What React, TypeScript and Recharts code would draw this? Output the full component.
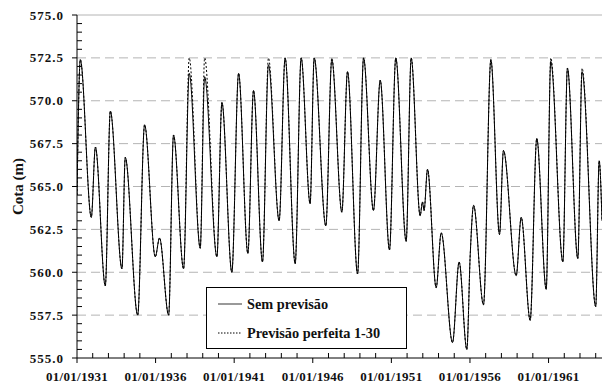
import React from 'react';
import { LineChart, Line, XAxis, YAxis, ReferenceLine, Legend } from 'recharts';

// turning points (year as decimal)
const years = [
  1931.0, 1931.21, 1931.91, 1932.17, 1932.8, 1933.12, 1933.86, 1934.07, 1934.86, 1935.3,
  1935.98, 1936.25, 1936.83, 1937.14, 1937.78, 1938.14, 1938.84, 1939.12, 1939.9, 1940.22,
  1940.85, 1941.28, 1941.87, 1942.23, 1942.8, 1943.18, 1943.86, 1944.24, 1944.88, 1945.26,
  1945.83, 1946.09, 1946.83, 1947.21, 1947.85, 1948.21, 1948.85, 1949.23, 1949.86, 1950.29,
  1950.88, 1951.28, 1951.94, 1952.26, 1952.83, 1952.98, 1953.08, 1953.3, 1953.85, 1954.17,
  1954.89, 1955.31, 1955.8, 1956.02, 1956.23, 1956.86, 1957.33, 1957.88, 1958.13, 1958.94,
  1959.26, 1959.83, 1960.25, 1960.85, 1961.14, 1961.91, 1962.2, 1962.86, 1963.13, 1964.0,
  1964.22, 1964.4,
];

const semPrevisao = [
  564.5, 572.4, 563.2, 567.3, 559.2, 569.4, 560.2, 566.7, 557.5, 568.6,
  560.9, 562.0, 557.5, 568.0, 560.2, 571.6, 561.4, 571.4, 560.9, 569.9,
  560.0, 571.6, 561.1, 570.6, 560.6, 572.1, 563.0, 572.5, 560.5, 572.5,
  564.0, 572.5, 562.7, 572.4, 563.5, 571.7, 559.9, 572.5, 563.6, 571.2,
  561.3, 572.5, 561.8, 572.5, 563.3, 564.1, 563.6, 566.0, 559.1, 562.3,
  555.9, 560.6, 555.5, 561.1, 563.9, 558.1, 572.4, 562.2, 567.1, 559.8,
  563.2, 557.2, 567.8, 559.0, 572.3, 560.6, 571.9, 560.8, 571.7, 558.0,
  566.5, 563.0,
];

const previsaoPerfeita = [
  564.5, 572.4, 563.2, 567.3, 559.2, 569.4, 560.2, 566.7, 557.5, 568.6,
  560.9, 562.0, 557.5, 568.0, 560.2, 572.5, 561.4, 572.5, 560.9, 569.9,
  560.0, 571.6, 561.1, 570.6, 560.6, 572.5, 563.0, 572.5, 560.5, 572.5,
  564.0, 572.5, 562.7, 572.5, 563.5, 571.7, 559.9, 572.5, 563.6, 571.2,
  561.3, 572.5, 561.8, 572.5, 563.3, 564.1, 563.6, 566.0, 559.1, 562.3,
  555.9, 560.6, 555.5, 561.1, 563.9, 558.1, 572.4, 562.2, 567.1, 559.8,
  563.2, 557.2, 567.8, 559.0, 572.5, 560.6, 571.9, 560.8, 571.9, 558.0,
  566.5, 563.0,
];

const majorYears = [1931, 1936, 1941, 1946, 1951, 1956, 1961];
const gridValues = [557.5, 560, 562.5, 565, 567.5, 570, 572.5];

const yearTicks = Array.from({ length: 34 }, (_, i) => 1931 + i);
const cotaTicks = Array.from({ length: 41 }, (_, i) => 555 + i * 0.5);

const data = years.map((t, i) => ({ t, sem: semPrevisao[i], prev: previsaoPerfeita[i] }));

const FONT = '"Liberation Serif", "Times New Roman", serif';

const XTick = (props: any) => {
  const { x, y, payload } = props;
  const yr = payload.value;
  if (majorYears.includes(yr)) {
    return (
      <g>
        <line x1={x} y1={y} x2={x} y2={y + 5} stroke="#000" />
        <text x={x} y={y + 22.5} textAnchor="middle" fontFamily={FONT} fontWeight="bold" fontSize={13} letterSpacing={0.3} fill="#111">
          {`01/01/${yr}`}
        </text>
      </g>
    );
  }
  return <line x1={x} y1={y} x2={x} y2={y - 5} stroke="#000" />;
};

const YTick = (props: any) => {
  const { x, y, payload } = props;
  const v = payload.value;
  const major = Math.abs(v / 2.5 - Math.round(v / 2.5)) < 1e-6;
  if (major) {
    return (
      <g>
        <line x1={x - 5} y1={y} x2={x} y2={y} stroke="#000" />
        <text x={x - 13} y={y + 4.5} textAnchor="end" fontFamily={FONT} fontWeight="bold" fontSize={13} letterSpacing={1} fill="#111">
          {v.toFixed(1)}
        </text>
      </g>
    );
  }
  return <line x1={x} y1={y} x2={x + 5} y2={y} stroke="#000" />;
};

const CotaLabel = (props: any) => {
  const { viewBox } = props;
  const cx = 22.5;
  const cy = viewBox.y + viewBox.height / 2;
  return (
    <text x={cx} y={cy} transform={`rotate(-90, ${cx}, ${cy})`} textAnchor="middle" fontFamily={FONT} fontWeight="bold" fontSize={15} fill="#111">
      Cota (m)
    </text>
  );
};

const LegendBox = () => (
  <div style={{ position: 'relative', width: 201, height: 62, border: '1px solid #000', background: '#fff', boxSizing: 'border-box', fontFamily: FONT, fontWeight: 'bold', fontSize: 14.3, color: '#111' }}>
    <svg width={40} height={62} style={{ position: 'absolute', left: 0, top: 0 }}>
      <line x1={11} y1={16} x2={35} y2={16} stroke="#555" strokeWidth={1.2} />
      <line x1={11} y1={45} x2={35} y2={45} stroke="#000" strokeDasharray="1.5 1.5" />
    </svg>
    <div style={{ position: 'absolute', left: 40, top: 6, lineHeight: '20px', whiteSpace: 'nowrap' }}>Sem previsão</div>
    <div style={{ position: 'absolute', left: 40, top: 35, lineHeight: '20px', whiteSpace: 'nowrap' }}>Previsão perfeita 1-30</div>
  </div>
);

export default function App() {
  return (
    <div style={{ position: 'absolute', left: 0, top: 0, background: '#fff' }}>
      <LineChart width={602} height={385} data={data} margin={{ top: 15, right: 0, bottom: 0, left: 0 }}>
        <XAxis
          dataKey="t"
          type="number"
          domain={[1931, 1964.4]}
          allowDataOverflow
          ticks={yearTicks}
          interval={0}
          tick={<XTick />}
          tickLine={false}
          tickSize={0}
          tickMargin={0}
          height={27}
          stroke="#000"
        />
        <YAxis
          type="number"
          domain={[555, 575]}
          ticks={cotaTicks}
          interval={0}
          tick={<YTick />}
          tickLine={false}
          tickSize={0}
          tickMargin={0}
          width={77}
          stroke="#000"
          label={CotaLabel}
        />
        {gridValues.map((v) => (
          <ReferenceLine key={v} y={v} stroke="#b4b4b4" strokeDasharray="9 5" />
        ))}
        <ReferenceLine y={575} stroke="#b4b4b4" />
        <Line type="monotone" dataKey="sem" stroke="#000" strokeWidth={1} dot={false} isAnimationActive={false} />
        <Line type="monotone" dataKey="prev" stroke="#000" strokeWidth={1} strokeDasharray="2 2" dot={false} isAnimationActive={false} />
        <Legend layout="horizontal" verticalAlign="middle" align="center" content={<LegendBox />} wrapperStyle={{ left: 206, top: 287, width: 201, height: 62 }} />
      </LineChart>
    </div>
  );
}
